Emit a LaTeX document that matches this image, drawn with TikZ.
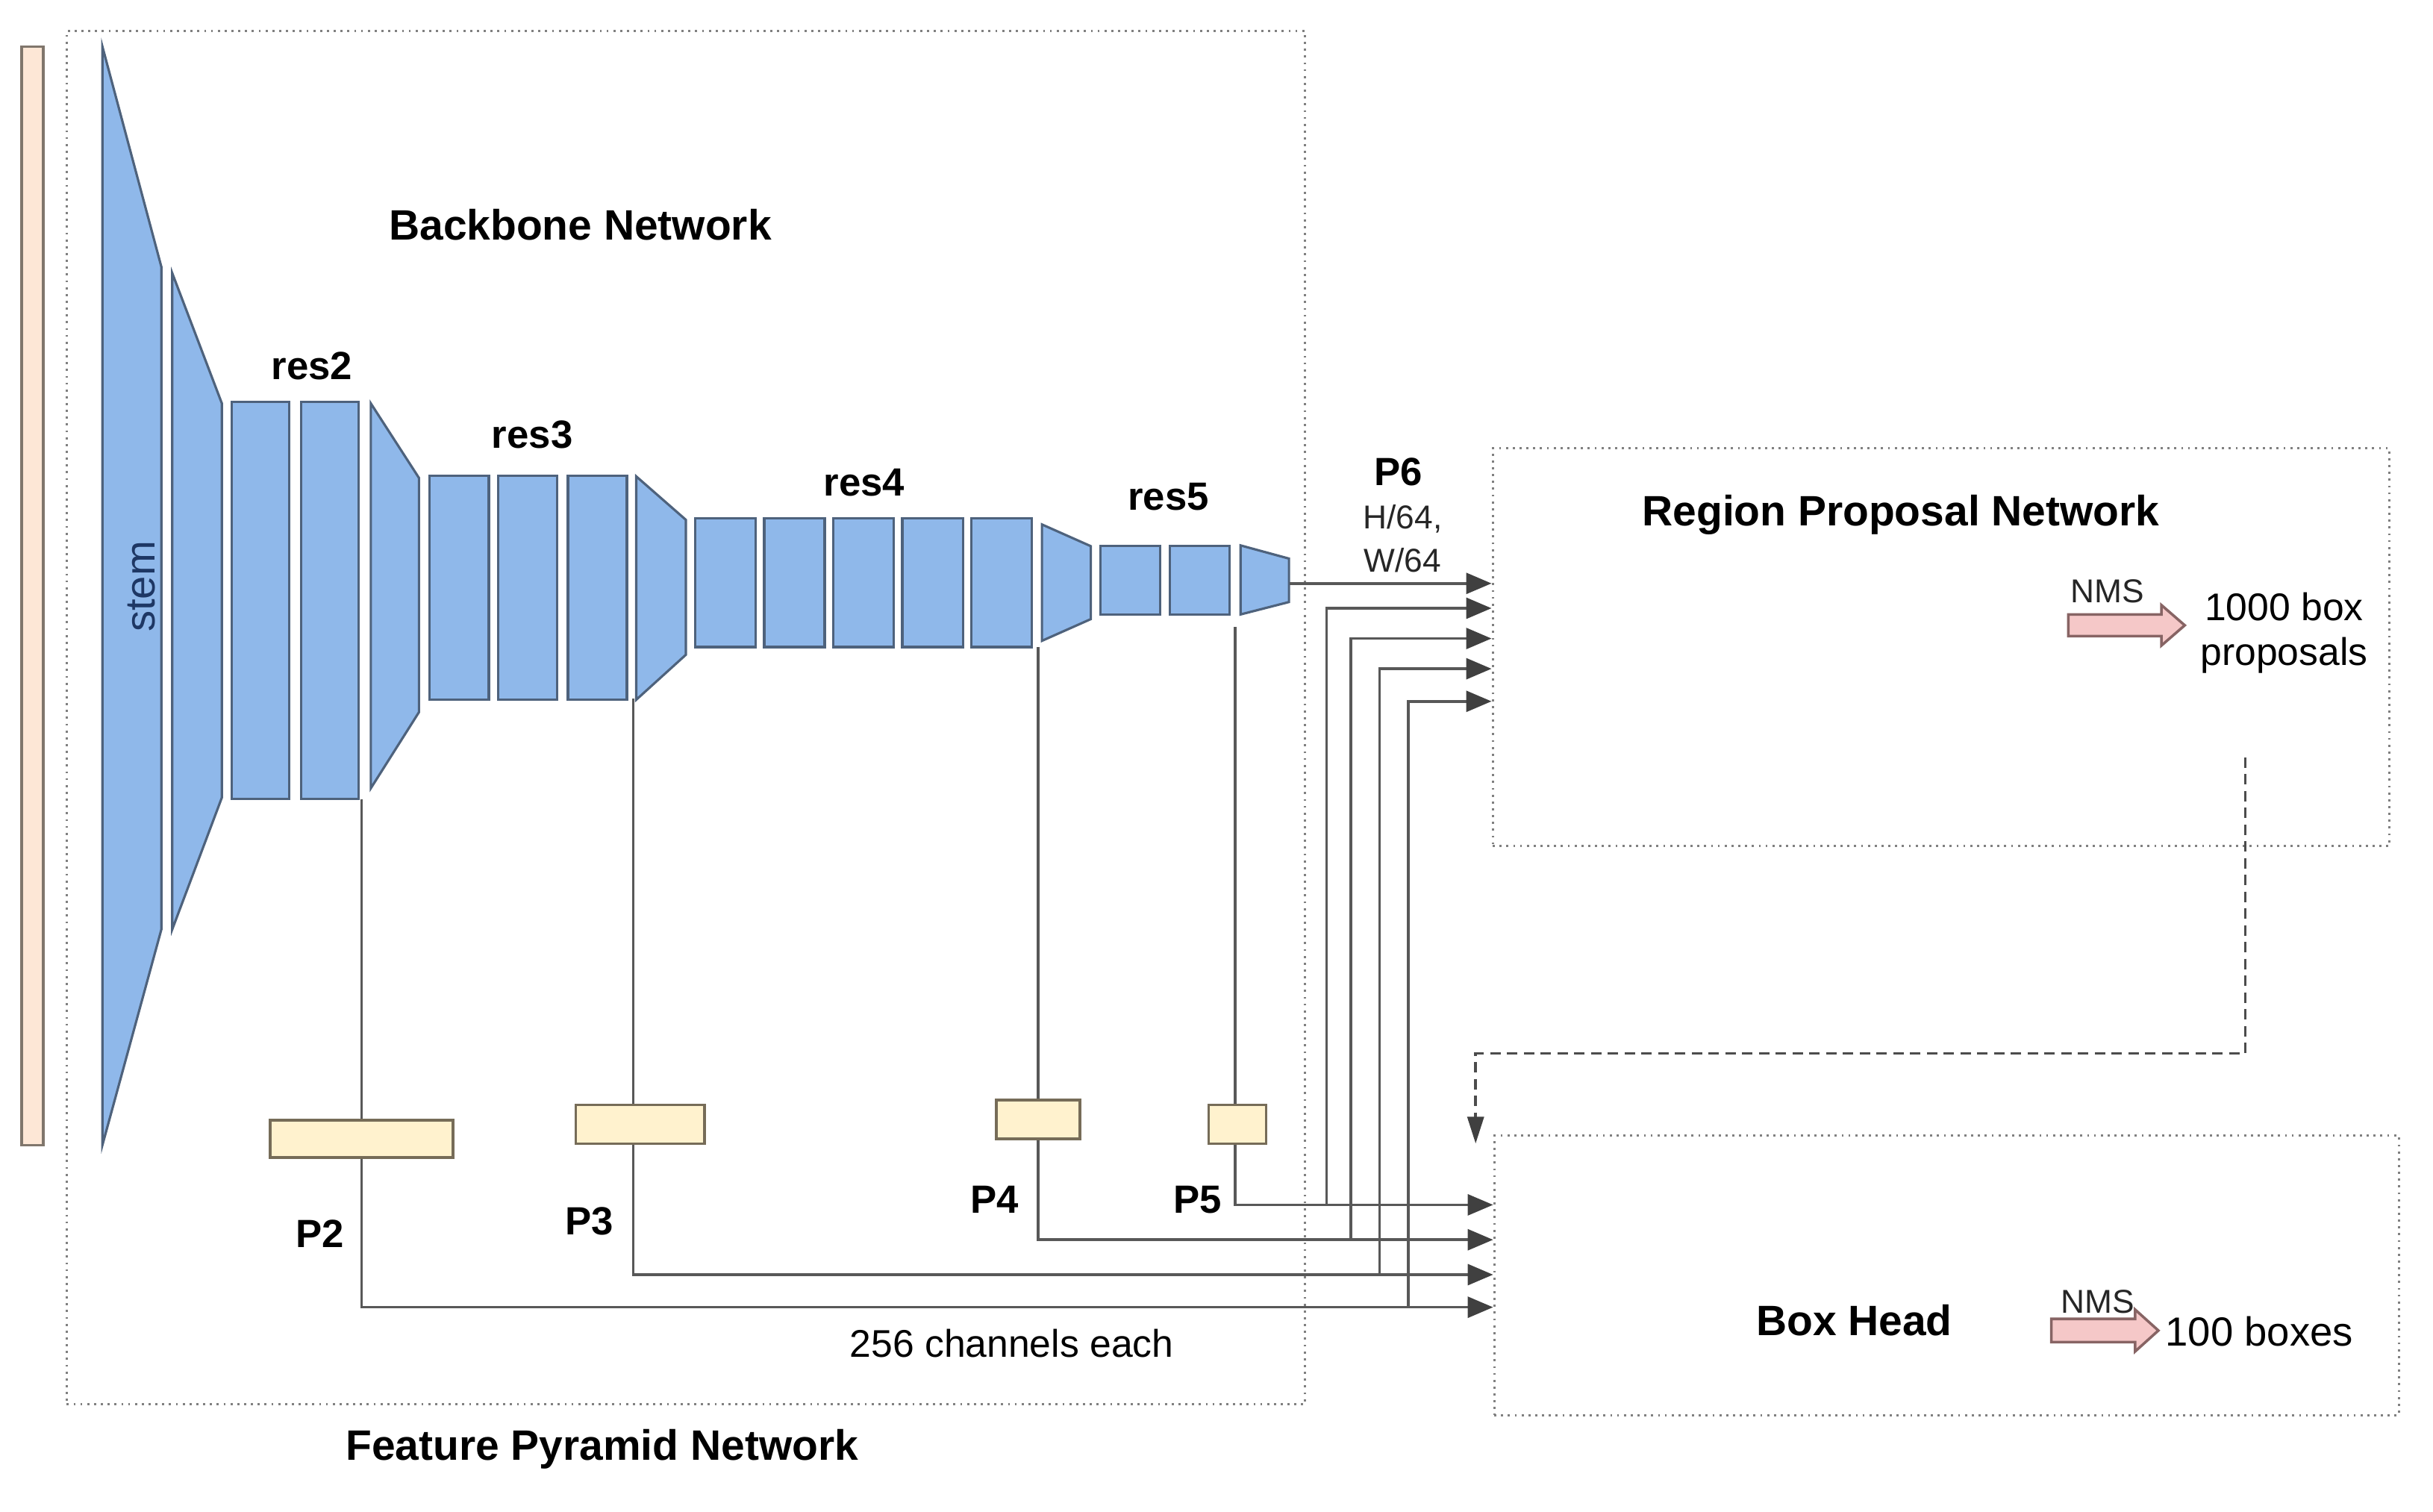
\documentclass[tikz,border=0pt]{standalone}
\usepackage{fontspec}
\setmainfont{Liberation Sans}
\usetikzlibrary{arrows.meta, fit}

\definecolor{blockfill}{RGB}{143,184,234}
\definecolor{blockline}{RGB}{78,98,124}
\definecolor{imgfill}{RGB}{253,231,214}
\definecolor{imgline}{RGB}{128,118,108}
\definecolor{featfill}{RGB}{255,242,206}
\definecolor{featline}{RGB}{118,108,88}
\definecolor{nmsfill}{RGB}{245,200,200}
\definecolor{nmsline}{RGB}{135,100,100}
\definecolor{wirecol}{RGB}{88,88,88}
\definecolor{stemcol}{RGB}{30,55,100}

\tikzset{
  block/.style={draw=blockline, fill=blockfill, line width=0.9pt},
  feat/.style={draw=featline, fill=featfill, line width=1pt, inner sep=0pt},
  panel/.style={draw=gray, dash pattern=on 0.8pt off 1.8pt, line width=0.9pt, inner sep=0pt},
  wire/.style={draw=wirecol, line width=1pt},
  arr/.style={wire, -{Triangle[length=3.4mm, width=2.8mm, color=black!75]}},
  dashwire/.style={draw=black!70, line width=1pt, dash pattern=on 4pt off 2.4pt,
    -{Triangle[length=3.6mm, width=2.2mm, color=black!75]}},
  nms/.style={draw=nmsline, fill=nmsfill, line width=1pt},
  title/.style={font=\bfseries\fontsize{16.2pt}{19pt}\selectfont},
  lbl/.style={font=\bfseries\fontsize{15pt}{18pt}\selectfont},
  txt/.style={font=\fontsize{14.7pt}{17pt}\selectfont},
  small/.style={font=\fontsize{12.6pt}{16.5pt}\selectfont, text=black!85}
}

\begin{document}
\begin{tikzpicture}[x=0.2079mm, y=-0.2079mm]
\useasboundingbox (0,0) rectangle (1568,974);

% input image
\node[draw=imgline, fill=imgfill, line width=1pt, inner sep=0pt, fit={(14,30) (28,738)}] (img) {};

% panels
\node[panel, fit={(43,20) (841,905)}] (fpn) {};
\node[panel, fit={(962,289) (1540,545)}] (rpn) {};
\node[panel, fit={(963,732) (1546,912)}] (bhead) {};

% backbone
\draw[block] (66,30) -- (104,172) -- (104,599) -- (66,738) -- cycle;
\draw[block] (111,176) -- (143,260) -- (143,514) -- (111,599) -- cycle;
\foreach \x in {149.5,194} \draw[block] (\x,259) rectangle ++(37,256);
\draw[block] (239,260) -- (270,308) -- (270,459) -- (239,508) -- cycle;
\foreach \x in {277,321,366} \draw[block] (\x,306.5) rectangle ++(38,144.5);
\draw[block] (410,307) -- (442,335) -- (442,422) -- (410,451) -- cycle;
\foreach \x in {448,492.5,537,581.5,626} \draw[block] (\x,334) rectangle ++(39,83);
\draw[block] (671.5,338) -- (703,352) -- (703,399) -- (671.5,413) -- cycle;
\foreach \x in {709,754} \draw[block] (\x,352) rectangle ++(38.5,44);
\draw[block] (799.5,351.5) -- (830.7,360) -- (830.7,388) -- (799.5,396) -- cycle;

\node[rotate=90, font=\fontsize{16pt}{19pt}\selectfont, text=stemcol] (stem) at (91,378) {stem};
\node[title] (bbt) at (374,145) {Backbone Network};
\node[lbl] (r2) at (201,236) {res2};
\node[lbl] (r3) at (343,280) {res3};
\node[lbl] (r4) at (557,311) {res4};
\node[lbl] (r5) at (753,320) {res5};
\node[lbl] (p6) at (901,304) {P6};
\node[small, align=center] (p6size) at (904,347) {H/64,\\W/64};

% pyramid outputs
\node[feat, fit={(174,722) (292,746)}] (p2) {};
\node[feat, fit={(371,712) (454,737)}] (p3) {};
\node[feat, fit={(642,709) (696,734)}] (p4) {};
\node[feat, fit={(779,712) (816,737)}] (p5) {};
\node[lbl] (lp2) at (206,795) {P2};
\node[lbl] (lp3) at (380,787) {P3};
\node[lbl] (lp4) at (641,773) {P4};
\node[lbl] (lp5) at (772,773) {P5};
\node[txt] (chan) at (652,866) {256 channels each};
\node[title] (fpnt) at (388,934) {Feature Pyramid Network};

\coordinate (t2) at (233,515);
\coordinate (t3) at (408,450);
\coordinate (t4) at (669,417);
\coordinate (t5) at (796,404);
\coordinate (t6) at (831,376);
\coordinate (b2) at (907.5,842.5);
\coordinate (b3) at (889,821.5);
\coordinate (b4) at (870.5,799);
\coordinate (b5) at (855,776.5);

\draw[wire] (t2) -- (t2 |- p2.north);
\draw[wire] (t3) -- (t3 |- p3.north);
\draw[wire] (t4) -- (t4 |- p4.north);
\draw[wire] (t5) -- (t5 |- p5.north);

% to box head
\draw[arr] (t2 |- p2.south) |- (bhead.west |- b2);
\draw[arr] (t3 |- p3.south) |- (bhead.west |- b3);
\draw[arr] (t4 |- p4.south) |- (bhead.west |- b4);
\draw[arr] (t5 |- p5.south) |- (bhead.west |- b5);

% to RPN
\draw[arr] (t6) -- (t6 -| rpn.west);
\draw[arr] (b5) |- (rpn.west |- 0,392);
\draw[arr] (b4) |- (rpn.west |- 0,411.5);
\draw[arr] (b3) |- (rpn.west |- 0,431);
\draw[arr] (b2) |- (rpn.west |- 0,452);

% RPN
\node[title] (rpnt) at (1225,332) {Region Proposal Network};
\draw[nms] (1333,396) -- (1393,396) -- (1393,390) -- (1408,403) -- (1393,416) -- (1393,410) -- (1333,410) -- cycle;
\node[small] (nms1) at (1358,381) {NMS};
\node[txt, align=center] (props) at (1472,408) {1000 box\\proposals};

\coordinate (rpnout) at (1447,488);
\coordinate (bhin) at (951,737);
\draw[dashwire] (rpnout) |- (bhin |- 0,679) -- (bhin);

% Box head
\node[title] (bht) at (1195,851) {Box Head};
\draw[nms] (1322,850) -- (1376,850) -- (1376,844) -- (1391,857.5) -- (1376,871) -- (1376,865) -- (1322,865) -- cycle;
\node[small] (nms2) at (1352,839) {NMS};
\node[txt, font=\fontsize{15.5pt}{18pt}\selectfont] (boxes) at (1456,858) {100 boxes};
\end{tikzpicture}
\end{document}
